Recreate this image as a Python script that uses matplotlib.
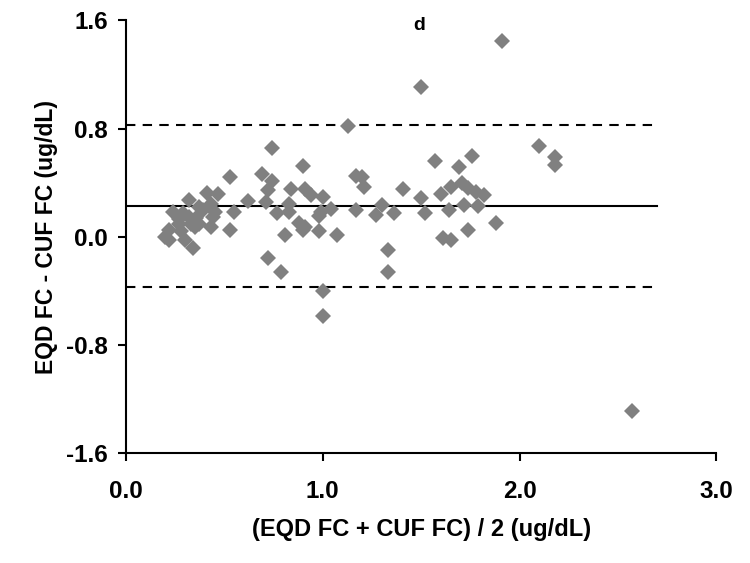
import matplotlib
matplotlib.use("Agg")
import matplotlib.pyplot as plt

# mean of the two methods (ug/dL)
mean_fc = [1.91, 1.50, 1.13, 2.10, 2.18, 2.18, 0.74, 1.76, 1.57, 1.69,
           0.90, 0.69, 0.53, 1.17, 1.20, 0.74, 1.21, 0.72, 0.84, 0.91,
           0.94, 1.41, 0.41, 0.47, 0.32, 0.62, 1.00, 1.50, 1.60, 1.65,
           1.71, 1.74, 1.78, 1.82, 0.71, 1.30, 1.72, 1.79, 1.64, 1.17,
           1.04, 0.83, 0.83, 0.77, 0.55, 0.24, 0.37, 0.43, 0.39, 0.29,
           0.32, 0.27, 0.355, 0.44, 0.45, 0.27, 0.33, 0.35, 0.37, 0.43,
           0.22, 0.28, 0.20, 0.22, 0.30, 0.34, 0.53, 0.81, 0.90, 0.88,
           0.91, 0.98, 0.99, 0.98, 1.07, 1.27, 1.36, 1.52, 1.61, 1.65,
           1.74, 1.88, 0.72, 0.79, 1.33, 1.33, 1.00, 1.00, 2.57]
# difference EQD - CUF (ug/dL)
diff_fc = [1.446, 1.109, 0.822, 0.672, 0.59, 0.53, 0.658, 0.597, 0.560, 0.512,
           0.525, 0.467, 0.440, 0.451, 0.440, 0.411, 0.366, 0.345, 0.353, 0.353,
           0.305, 0.353, 0.326, 0.313, 0.273, 0.265, 0.297, 0.284, 0.313, 0.369,
           0.398, 0.358, 0.332, 0.305, 0.260, 0.231, 0.231, 0.225, 0.199, 0.199,
           0.204, 0.244, 0.186, 0.172, 0.186, 0.186, 0.218, 0.244, 0.199, 0.172,
           0.146, 0.133, 0.141, 0.146, 0.186, 0.093, 0.093, 0.072, 0.093, 0.072,
           0.053, 0.040, 0.0, -0.021, -0.021, -0.080, 0.053, 0.013, 0.053, 0.101,
           0.074, 0.151, 0.186, 0.045, 0.013, 0.159, 0.172, 0.172, -0.008, -0.021,
           0.053, 0.101, -0.159, -0.257, -0.098, -0.257, -0.403, -0.584, -1.285]

bias = 0.226
upper_loa = 0.825
lower_loa = -0.372
line_end = 2.70

plt.rcParams['font.family'] = ['Liberation Sans', 'DejaVu Sans']

fig = plt.figure(figsize=(7.5, 5.63), dpi=100)
ax = fig.add_axes([0.168, 0.195, 0.787, 0.769])

ax.plot(mean_fc, diff_fc, linestyle="none", marker="D", markersize=8.5,
        color="#808080", markeredgewidth=0, zorder=3)

ax.plot([0, line_end], [bias, bias], color="black", lw=1.5, zorder=2)
ax.plot([0, line_end], [upper_loa, upper_loa], color="black", lw=1.5,
        dashes=(4.5, 3.5), zorder=2)
ax.plot([0, line_end], [lower_loa, lower_loa], color="black", lw=1.5,
        dashes=(4.5, 3.5), zorder=2)

ax.set_xlim(0, 3.0)
ax.set_ylim(-1.6, 1.6)
ax.set_xticks([0.0, 1.0, 2.0, 3.0])
ax.set_yticks([-1.6, -0.8, 0.0, 0.8, 1.6])
ax.set_xticklabels(["0.0", "1.0", "2.0", "3.0"])
ax.set_yticklabels(["-1.6", "-0.8", "0.0", "0.8", "1.6"])

for side in ["top", "right"]:
    ax.spines[side].set_visible(False)
for side in ["left", "bottom"]:
    ax.spines[side].set_linewidth(1.5)

ax.tick_params(axis="both", direction="out", length=6, width=1.5,
               labelsize=17.5)
ax.tick_params(axis="x", pad=13)
ax.tick_params(axis="y", pad=7)
for lab in ax.get_xticklabels() + ax.get_yticklabels():
    lab.set_fontweight("bold")

ax.set_xlabel("(EQD FC + CUF FC) / 2 (ug/dL)", fontsize=17,
              fontweight="bold", labelpad=11)
ax.set_ylabel("EQD FC - CUF FC (ug/dL)", fontsize=16.5,
              fontweight="bold", labelpad=6)

ax.text(1.49, 1.56, "d", fontsize=14, fontweight="bold",
        ha="center", va="center", clip_on=False)

fig.savefig("out.png", dpi=100)
